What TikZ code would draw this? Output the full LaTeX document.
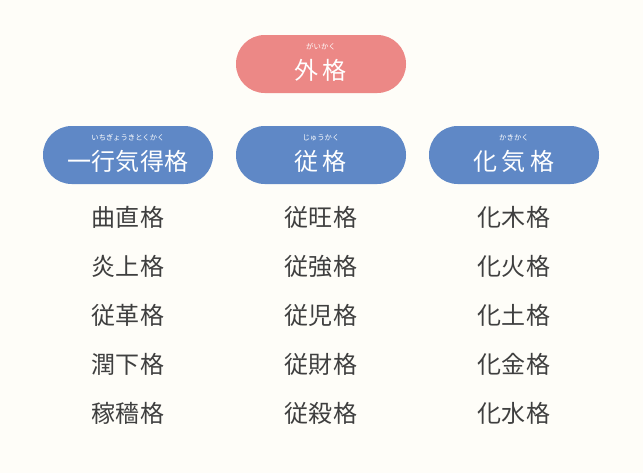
\documentclass[tikz,border=0pt]{standalone}
\usepackage{fontspec}
\newfontfamily\jp{Noto Sans CJK JP}
\definecolor{bgcol}{HTML}{FEFDF8}
\definecolor{pinkcol}{HTML}{EC8886}
\definecolor{bluecol}{HTML}{5F88C6}
\definecolor{textcol}{HTML}{3F3F3F}
\tikzset{
  pill/.style={rounded corners=24.5pt, minimum width=170*0.03cm, minimum height=58*0.03cm, inner sep=0pt},
  head/.style={font=\jp\fontsize{20.5}{20.5}\selectfont, text=white},
  ruby/.style={font=\jp\fontsize{6.3}{6.3}\selectfont, text=white},
  item/.style={font=\jp\fontsize{20.5}{20.5}\selectfont, text=textcol}
}
\begin{document}
\begin{tikzpicture}[x=0.03cm, y=-0.03cm]
  % canvas
  \fill[bgcol] (0,0) rectangle (643,473);
  \useasboundingbox (0,0) rectangle (643,473);

  % top category
  \node[pill, fill=pinkcol] (gaikaku) at (321,64) {};
  \node[ruby] (gaikakuR) at (321,47) {がいかく};
  \node[head] (gaikakuT) at (321,70) {外\,格};

  % three sub categories
  \foreach \x/\nm/\rb/\hd in {128/ikkou/いちぎょうきとくかく/一行気得格, 321/juu/じゅうかく/従\,格, 514/kaki/かきかく/化\,気\,格}
  {
    \node[pill, fill=bluecol] (\nm) at (\x,155) {};
    \node[ruby] (\nm R) at (\x,138) {\rb};
    \node[head] (\nm T) at (\x,161) {\hd};
  }

  % items
  \foreach \y/\a/\b/\c in {217/曲直格/従旺格/化木格, 266/炎上格/従強格/化火格, 315/従革格/従児格/化土格, 364/潤下格/従財格/化金格, 413/稼穡格/従殺格/化水格}
  {
    \node[item] (i\y) at (128,\y) {\a};
    \node[item] (j\y) at (321,\y) {\b};
    \node[item] (k\y) at (514,\y) {\c};
  }
\end{tikzpicture}
\end{document}
